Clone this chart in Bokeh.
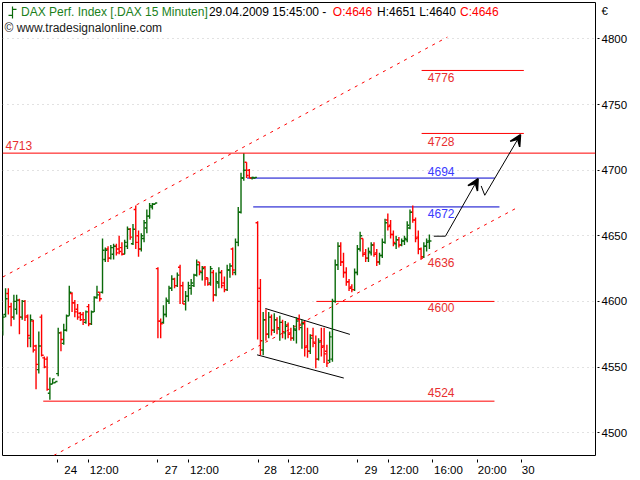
from bokeh.plotting import figure
from bokeh.models import (Range1d, FixedTicker, Label, ColumnDataSource,
                          Arrow, VeeHead, Span, CustomJSTickFormatter)
from bokeh.embed import file_html
from bokeh.resources import INLINE

# ---------------- data: 15-minute OHLC bars (DAX, 23.04. tail .. 29.04.2009 15:45) -------------
opens = [
    # 23.04 (tail)
    4578, 4590, 4606, 4596, 4588, 4594, 4601, 4588, 4600, 4589, 4572, 4585, 4566, 4548, 4588, 4557, 4556, 4530, 4537, 4538,
    # 24.04
    4545, 4576, 4568, 4578, 4589, 4606, 4599, 4594, 4591, 4590, 4584, 4596, 4583, 4592, 4603, 4607, 4607, 4632, 4640, 4633,
    4636, 4642, 4640, 4641, 4636, 4642, 4655, 4644, 4670, 4650, 4640, 4648, 4656, 4665, 4672, 4674,
    # 27.04
    4625, 4585, 4584, 4590, 4600, 4610, 4617, 4612, 4626, 4612, 4600, 4604, 4610, 4612, 4620, 4630, 4622, 4626, 4618, 4614,
    4622, 4605, 4614, 4622, 4614, 4609, 4624, 4640, 4622, 4645, 4668, 4694, 4706, 4700, 4694, 4694,
    # 28.04
    4660, 4610, 4563, 4586, 4575, 4588, 4578, 4586, 4579, 4584, 4576, 4582, 4576, 4572, 4578, 4586, 4580, 4584, 4566, 4562,
    4574, 4568, 4556, 4570, 4566, 4562, 4555, 4556, 4600, 4628, 4642, 4630, 4622, 4615, 4611, 4609,
    # 29.04
    4622, 4640, 4648, 4637, 4633, 4637, 4643, 4637, 4630, 4635, 4645, 4662, 4658, 4651, 4644, 4647, 4643, 4646, 4647, 4656,
    4668, 4662, 4649, 4640, 4634, 4642, 4646,
]
highs = [
    4590, 4610, 4610, 4599, 4605, 4605, 4602, 4601, 4601, 4590, 4590, 4586, 4567, 4577, 4590, 4558, 4558, 4542, 4541, 4539,
    4580, 4577, 4583, 4590, 4612, 4607, 4601, 4598, 4592, 4592, 4593, 4598, 4593, 4604, 4612, 4607, 4648, 4641, 4642, 4643,
    4644, 4644, 4650, 4645, 4647, 4657, 4656, 4659, 4673, 4654, 4652, 4662, 4670, 4675, 4675, 4675,
    4626, 4587, 4597, 4603, 4612, 4620, 4618, 4622, 4628, 4615, 4608, 4615, 4617, 4621, 4632, 4630, 4627, 4627, 4618, 4627,
    4624, 4622, 4626, 4624, 4619, 4628, 4629, 4641, 4648, 4672, 4698, 4713, 4706, 4701, 4695, 4694.5,
    4661, 4617, 4592, 4594, 4592, 4590, 4591, 4588, 4589, 4586, 4585, 4584, 4580, 4582, 4588, 4590, 4586, 4585, 4580, 4575,
    4580, 4574, 4572, 4580, 4580, 4567, 4577, 4602, 4632, 4645, 4645, 4637, 4626, 4617, 4613, 4625,
    4643, 4653, 4648, 4640, 4641, 4645, 4645, 4640, 4637, 4648, 4663, 4667, 4662, 4654, 4650, 4649, 4648, 4650, 4661, 4670,
    4673, 4664, 4654, 4641, 4645, 4648, 4651,
]
lows = [
    4574, 4588, 4590, 4581, 4586, 4590, 4575, 4586, 4585, 4565, 4565, 4561, 4533, 4545, 4558, 4549, 4532, 4525, 4537, 4538,
    4543, 4562, 4567, 4577, 4589, 4592, 4588, 4586, 4585, 4582, 4583, 4581, 4582, 4592, 4602, 4600, 4606, 4630, 4630, 4632,
    4632, 4635, 4636, 4635, 4636, 4640, 4647, 4643, 4640, 4634, 4638, 4645, 4652, 4663, 4670, 4674,
    4572, 4572, 4583, 4588, 4598, 4608, 4610, 4611, 4598, 4598, 4593, 4600, 4605, 4611, 4619, 4620, 4616, 4612, 4612, 4612,
    4600, 4604, 4610, 4610, 4607, 4608, 4618, 4620, 4620, 4642, 4667, 4692, 4694, 4694, 4693, 4693.5,
    4571, 4559, 4559, 4570, 4572, 4574, 4576, 4575, 4570, 4572, 4571, 4572, 4570, 4570, 4568, 4578, 4564, 4558, 4557, 4560,
    4565, 4549, 4555, 4558, 4553, 4550, 4553, 4554, 4599, 4624, 4627, 4618, 4612, 4608, 4607, 4608,
    4620, 4638, 4634, 4630, 4630, 4635, 4634, 4627, 4628, 4633, 4644, 4654, 4648, 4642, 4640, 4641, 4642, 4643, 4645, 4655,
    4660, 4645, 4636, 4632, 4633, 4638, 4640,
]
closes = [
    4588, 4602, 4596, 4588, 4600, 4601, 4588, 4600, 4588, 4574, 4586, 4563, 4552, 4566, 4559, 4550, 4533, 4537, 4541, 4539,
    4576, 4571, 4578, 4589, 4607, 4599, 4592, 4588, 4586, 4586, 4592, 4583, 4592, 4603, 4605, 4602, 4639, 4639, 4633, 4641,
    4642, 4637, 4638, 4636, 4645, 4655, 4649, 4655, 4645, 4640, 4650, 4660, 4665, 4673, 4674, 4675,
    4585, 4583, 4590, 4601, 4610, 4617, 4612, 4620, 4612, 4598, 4604, 4612, 4614, 4620, 4628, 4623, 4625, 4617, 4613, 4625,
    4605, 4615, 4622, 4612, 4609, 4624, 4627, 4624, 4645, 4668, 4694, 4700, 4696, 4694, 4694.5, 4694.5,
    4600, 4570, 4586, 4575, 4588, 4578, 4586, 4580, 4584, 4577, 4581, 4575, 4572, 4579, 4585, 4582, 4583, 4565, 4562, 4572,
    4569, 4556, 4569, 4565, 4560, 4553, 4573, 4600, 4628, 4642, 4630, 4622, 4615, 4610, 4609, 4622,
    4640, 4650, 4636, 4633, 4638, 4643, 4636, 4630, 4635, 4645, 4660, 4657, 4651, 4645, 4647, 4643, 4646, 4648, 4658, 4668,
    4662, 4648, 4640, 4634, 4642, 4645, 4646,
]

# axis ticks
y_ticks = [4500, 4550, 4600, 4650, 4700, 4750, 4800]
currency_tick = 4821.4
x_tick_pos = [19.9, 30.9, 56.0, 67.1, 92.2, 103.1, 128.2, 139.4, 155.3, 171.3, 187.3]
x_label_pos = [24.5, 36.6, 60.8, 72.8, 96.6, 108.8, 132.9, 144.9, 160.9, 176.7, 189.7]
x_tick_labels = ["24", "12:00", "27", "12:00", "28", "12:00", "29", "12:00", "16:00", "20:00", "30"]

# drawn support / resistance levels
level_y = [4776, 4728, 4694, 4672, 4600, 4524]
level_x0 = [151.2, 151.2, 88.2, 90.4, 113.2, 14.6]
level_x1 = [188.1, 188.1, 177.6, 179.3, 177.5, 177.5]
level_kind = ["r", "r", "b", "b", "r", "r"]
full_level = 4713
label_texts = ["4776", "4728", "4694", "4672", "4636", "4600", "4524"]
label_y = [4770.6, 4722.0, 4699.3, 4667.3, 4629.8, 4595.0, 4530.3]
label_kind = ["r", "r", "b", "b", "r", "r", "r"]

# trend channel (dashed red)
chan_up_x = [0.0, 160.5]
chan_up_y = [4618.6, 4801.4]
chan_lo_x = [18.4, 186.3]
chan_lo_y = [4482.6, 4672.1]
# falling flag (black)
flag_top_x = [94.8, 125.3]
flag_top_y = [4594.6, 4574.9]
flag_bot_x = [91.8, 123.1]
flag_bot_y = [4559.3, 4541.6]
# projected path (black arrows)
path1_x = [155.6, 159.8, 171.6]
path1_y = [4649.7, 4649.7, 4693.5]
path2_x = [172.7, 174.0, 186.9]
path2_y = [4688.0, 4680.9, 4727.1]

# ---------------- styling ----------------
GREEN = "#0a6a0a"
RED = "#ff0000"
LRED = "#e83030"
BLUE = "#0000cc"
LBLUE = "#3a3aff"
FONT = "Liberation Sans"

# page-pixel -> data helpers (layout only)
def px_x(px):
    return (px - 2.3) / 2.77

def px_y(py):
    return 4800 - (py - 38.7) * 0.757

p = figure(width=632, height=478,
           x_range=Range1d(px_x(2), px_x(595)), y_range=Range1d(px_y(458), px_y(2)),
           y_axis_location="right", output_backend="svg", toolbar_location=None,
           min_border_left=2, min_border_top=2, min_border_right=37, min_border_bottom=20)
p.background_fill_color = "white"
p.border_fill_color = "white"
p.outline_line_color = "black"
p.outline_line_width = 1
p.outline_line_alpha = 1.0

# right axis: labels on major ticks (incl. currency sign), tick marks drawn as minor ticks
yax = p.yaxis[0]
yax.ticker = FixedTicker(ticks=y_ticks + [currency_tick], minor_ticks=y_ticks)
yax.formatter = CustomJSTickFormatter(args=dict(cur=currency_tick),
                                      code="return Math.abs(tick - cur) < 0.01 ? '\u20ac' : tick.toFixed(0)")
yax.axis_line_color = None
yax.major_tick_line_color = None
yax.minor_tick_in = -2
yax.minor_tick_out = 4
yax.minor_tick_line_color = "black"
yax.major_tick_out = 4
yax.major_label_standoff = 2
yax.major_label_text_font = FONT
yax.major_label_text_font_size = "11.5px"
yax.major_label_text_color = "black"

# bottom axis: labels on major ticks (right of the marks), marks drawn as minor ticks
xax = p.xaxis[0]
xax.ticker = FixedTicker(ticks=x_label_pos, minor_ticks=x_tick_pos)
xax.formatter = CustomJSTickFormatter(args=dict(pos=x_label_pos, lab=x_tick_labels),
    code="""
let best = 0, bd = 1e9;
for (let k = 0; k < pos.length; k++) { const d = Math.abs(pos[k] - tick); if (d < bd) { bd = d; best = k; } }
return lab[best];
""")
xax.axis_line_color = None
xax.major_tick_line_color = None
xax.major_tick_out = 7
xax.major_tick_in = 0
xax.minor_tick_in = -4
xax.minor_tick_out = 7
xax.minor_tick_line_color = "black"
xax.major_label_standoff = 1
xax.major_label_text_font = FONT
xax.major_label_text_font_size = "11.5px"
xax.major_label_text_color = "black"

p.xgrid.visible = False
p.ygrid.ticker = FixedTicker(ticks=y_ticks)
p.ygrid.grid_line_color = "#c4c4c4"
p.ygrid.grid_line_dash = "1 4"
p.ygrid.grid_line_width = 1

# channel lines
p.line(chan_up_x, chan_up_y, line_color=RED, line_width=1, line_dash="3 5")
p.line(chan_lo_x, chan_lo_y, line_color=RED, line_width=1, line_dash="3 5")

# full-width 4713 level
p.add_layout(Span(location=full_level, dimension="width", line_color=RED, line_width=1))

# other levels
lv_src = ColumnDataSource(dict(x0=level_x0, x1=level_x1, y=level_y,
                               col=[RED if k == "r" else BLUE for k in level_kind]))
p.segment(x0="x0", y0="y", x1="x1", y1="y", line_color="col", line_width=1, source=lv_src)

# flag
p.line(flag_top_x, flag_top_y, line_color="black", line_width=1)
p.line(flag_bot_x, flag_bot_y, line_color="black", line_width=1)

# OHLC bars
idx = list(range(len(opens)))
cols = [GREEN if c >= o else RED for o, c in zip(opens, closes)]
src = ColumnDataSource(dict(x=idx, o=opens, h=highs, l=lows, c=closes, col=cols,
                            xl=[i - 0.75 for i in idx], xr=[i + 0.75 for i in idx]))
p.segment(x0="x", y0="l", x1="x", y1="h", line_color="col", line_width=1.4, source=src)
p.segment(x0="xl", y0="o", x1="x", y1="o", line_color="col", line_width=1.4, source=src)
p.segment(x0="x", y0="c", x1="xr", y1="c", line_color="col", line_width=1.4, source=src)

# projected path with arrows
p.line(path1_x[:2], path1_y[:2], line_color="black", line_width=1)
p.line(path2_x[:2], path2_y[:2], line_color="black", line_width=1)
for px_, py_ in ((path1_x, path1_y), (path2_x, path2_y)):
    p.add_layout(Arrow(end=VeeHead(size=11, fill_color="black", line_color="black", line_width=1.5),
                       x_start=px_[1], y_start=py_[1], x_end=px_[2], y_end=py_[2],
                       line_color="black", line_width=1))

# level labels
lx = px_x(427.3)
for t, yv, k in zip(label_texts, label_y, label_kind):
    p.add_layout(Label(x=lx, y=yv, text=t, text_font=FONT, text_font_size="12px",
                       text_color=LRED if k == "r" else LBLUE,
                       text_align="left", text_baseline="middle"))
p.add_layout(Label(x=px_x(5), y=px_y(145.5), text=str(full_level), text_font=FONT,
                   text_font_size="12px", text_color=LRED, text_align="left", text_baseline="middle"))

# header texts
hy = px_y(11.5)
icon = ColumnDataSource(dict(x0=[px_x(12), px_x(8), px_x(12)], y0=[px_y(6), px_y(15), px_y(9)],
                             x1=[px_x(12), px_x(12), px_x(16)], y1=[px_y(18), px_y(15), px_y(9)]))
p.segment(x0="x0", y0="y0", x1="x1", y1="y1", line_color=GREEN, line_width=1.2, source=icon)
header = [
    (20.5, "DAX Perf. Index [.DAX  15 Minuten]", "#1a801a"),
    (208.4, "29.04.2009 15:45:00 -", "black"),
    (332.3, "O:4646", "#ff0000"),
    (376.6, "H:4651 L:4640", "black"),
    (459.5, "C:4646", "#ff0000"),
]
for xpx, t, c in header:
    p.add_layout(Label(x=px_x(xpx), y=hy, text=t, text_font=FONT, text_font_size="12px",
                       text_color=c, text_align="left", text_baseline="middle"))
p.add_layout(Label(x=px_x(4), y=px_y(28), text="\u00a9 www.tradesignalonline.com", text_font=FONT,
                   text_font_size="12px", text_color="#202020", text_align="left", text_baseline="middle"))

open("out.html", "w").write(file_html(p, INLINE))
